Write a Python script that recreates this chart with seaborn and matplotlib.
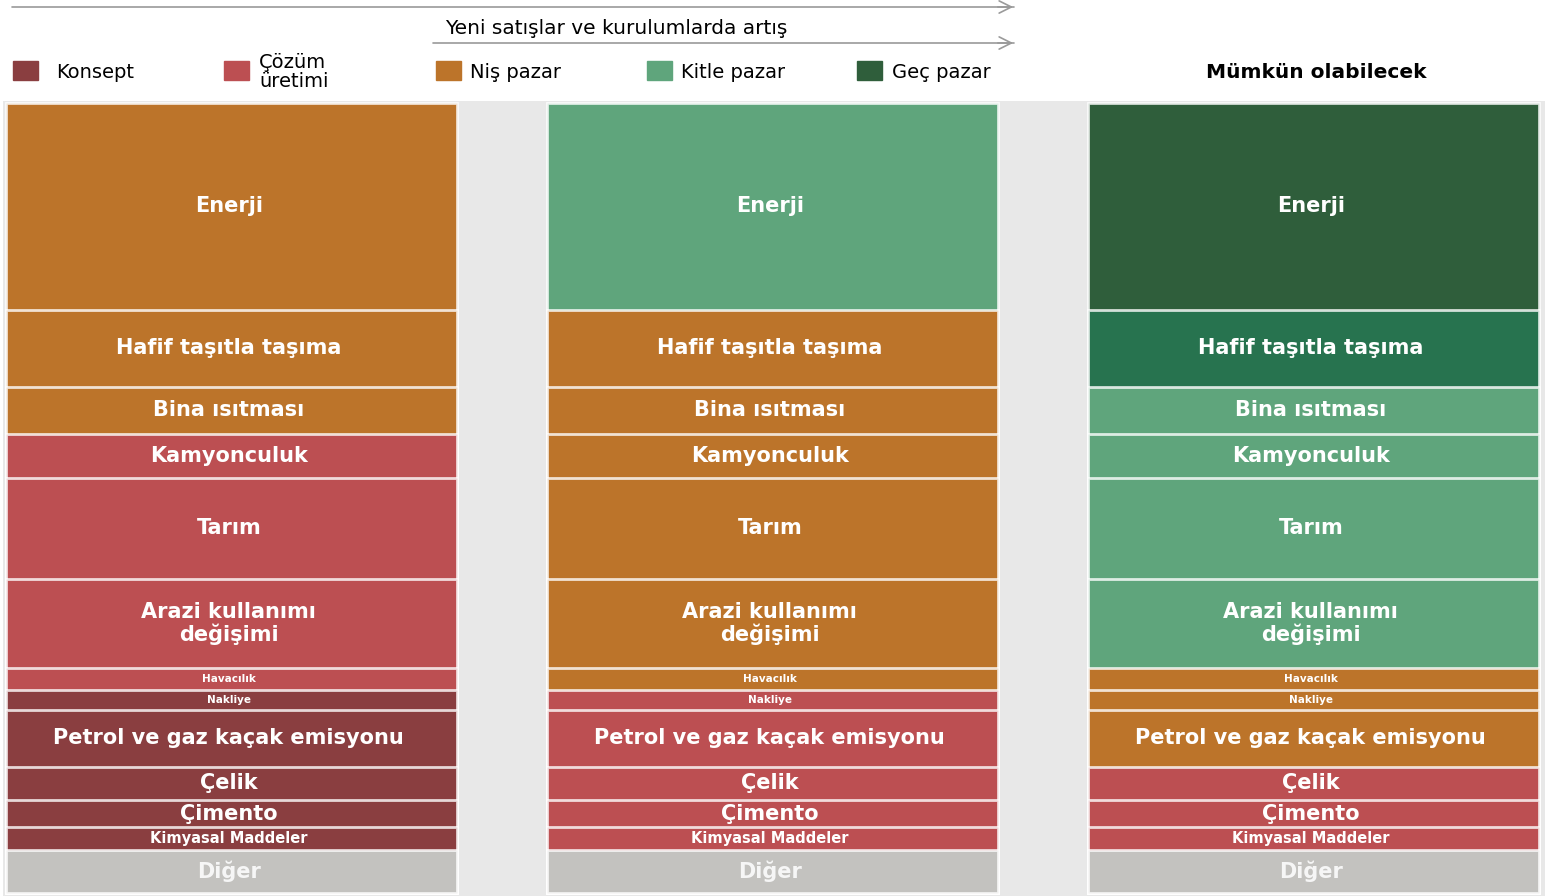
import numpy as np
import pandas as pd
import matplotlib.pyplot as plt
import seaborn as sns
from matplotlib.patches import Rectangle

# DATA
columns = ["Col1", "Col2", "Col3"]
sectors = ["Enerji", "Hafif taşıtla taşıma", "Bina ısıtması", "Kamyonculuk", "Tarım",
           "Arazi kullanımı\ndeğişimi", "Havacılık", "Nakliye",
           "Petrol ve gaz kaçak emisyonu", "Çelik", "Çimento", "Kimyasal Maddeler", "Diğer"]
share = [26.2, 9.7, 6.0, 5.6, 12.7, 11.3, 2.8, 2.5, 7.2, 4.2, 3.5, 2.9, 5.4]

# stage of each sector in each column
stage_col1 = ["nis", "nis", "nis", "cozum", "cozum", "cozum", "cozum",
              "konsept", "konsept", "konsept", "konsept", "konsept", "diger"]
stage_col2 = ["kitle", "nis", "nis", "nis", "nis", "nis", "nis",
              "cozum", "cozum", "cozum", "cozum", "cozum", "diger"]
stage_col3 = ["gec", "gec_kitle", "kitle", "kitle", "kitle", "kitle", "nis",
              "nis", "nis", "cozum", "cozum", "cozum", "diger"]

legend_labels = ["Konsept", "Çözüm\nüretimi", "Niş pazar", "Kitle pazar", "Geç pazar"]
legend_keys = ["konsept", "cozum", "nis", "kitle", "gec"]

colors = {
    "konsept": "#8A3E40",
    "cozum": "#BC4F52",
    "nis": "#BC742A",
    "kitle": "#5FA57C",
    "gec": "#2F5E3B",
    "gec_kitle": "#27734F",
    "diger": "#C3C2BF",
}

stages = [stage_col1, stage_col2, stage_col3]

# FIGURE
sns.set_style("white")
plt.rcParams['font.family'] = ['DejaVu Sans']

W, H = 1550, 896
fig = plt.figure(figsize=(W / 100, H / 100), dpi=100)
ax = fig.add_axes([3 / W, 0, 1542 / W, (H - 101) / H])
ax.set_facecolor("#E8E8E8")

# stacked bars: draw cumulative tops from the largest down
tops = np.cumsum(share[::-1])[::-1]
for i, sec in enumerate(sectors):
    layer = pd.DataFrame({
        "col": columns,
        "top": [tops[i]] * 3,
    })
    pal = [colors[stages[c][i]] for c in range(3)]
    sns.barplot(data=layer, x="col", y="top", hue="col", palette=pal,
                width=0.834, edgecolor=(1, 1, 1, 0.8), linewidth=2,
                legend=False, ax=ax, saturation=1)

# labels
small = {"Havacılık": 7.5, "Nakliye": 7.5, "Kimyasal Maddeler": 10.5}
for i, sec in enumerate(sectors):
    yc = tops[i] - share[i] / 2
    for c in range(3):
        fs = small.get(sec, 15)
        col = "#F6F6F6" if sec == "Diğer" else "white"
        ax.text(c - 0.005, yc, sec, ha="center", va="center", fontsize=fs,
                fontweight="bold", color=col, linespacing=1.1)

ax.set_xlim(-0.4224, 2.428)
ax.set_ylim(-0.38, 100.25)
ax.set_xticks([])
ax.set_yticks([])
ax.set_xlabel("")
ax.set_ylabel("")
for s in ax.spines.values():
    s.set_visible(False)


def fx(px):
    return px / W


def fy(py):
    return 1 - py / H


# legend
sq_x = [13, 224, 436, 647, 857]
tx_x = [56, 259, 470, 681, 892]
for key, lab, sx, tx in zip(legend_keys, legend_labels, sq_x, tx_x):
    fig.add_artist(Rectangle((fx(sx), fy(80)), 25 / W, 19 / H,
                             transform=fig.transFigure, color=colors[key]))
    fig.text(fx(tx), fy(72), lab, ha="left", va="center", fontsize=14,
             color="black", linespacing=1.0)

# arrows
arrow_color = "#9A9A9A"
for x0, y0 in [(12, 7), (433, 43)]:
    fig.add_artist(plt.Line2D([fx(x0), fx(1014)], [fy(y0), fy(y0)], color=arrow_color, lw=1.2))
    ax.annotate("", xy=(fx(1016), fy(y0)), xytext=(fx(995), fy(y0)), xycoords="figure fraction",
                arrowprops=dict(arrowstyle="->", color=arrow_color, lw=1.2, mutation_scale=22))
fig.text(fx(445), fy(28), "Yeni satışlar ve kurulumlarda artış", ha="left", va="center",
         fontsize=14.5, color="black")

fig.text(fx(1316), fy(72), "Mümkün olabilecek", ha="center", va="center",
         fontsize=14.5, fontweight="bold", color="black")

fig.savefig("out.png", dpi=100, facecolor="white")
